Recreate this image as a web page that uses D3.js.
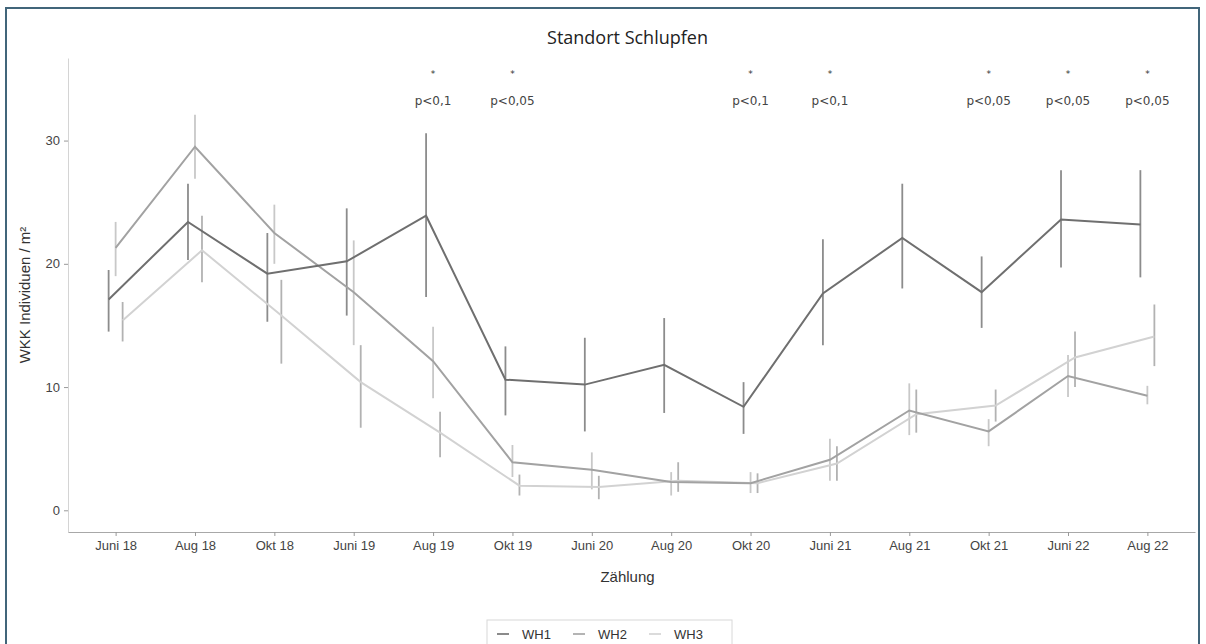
<!DOCTYPE html>
<html>
<head>
<meta charset="utf-8">
<script src="https://cdn.jsdelivr.net/npm/d3@7"></script>
<style>
  body { margin: 0; background: #fff; }
  svg { display: block; }
  text { font-family: "Liberation Sans", Arial, sans-serif; }
</style>
</head>
<body>
<svg id="chart" width="1206" height="644"></svg>
<script>
// Zählungen
const categories = ['Juni 18','Aug 18','Okt 18','Juni 19','Aug 19','Okt 19','Juni 20',
                    'Aug 20','Okt 20','Juni 21','Aug 21','Okt 21','Juni 22','Aug 22']
const seriesNames = ['WH1','WH2','WH3']

// mean and error bar ends per treatment
const wh1Mean = [17.1, 23.4, 19.2, 20.2, 23.9, 10.6, 10.2, 11.8, 8.4, 17.6, 22.1, 17.7, 23.6, 23.2]
const wh1Lo   = [14.5, 20.3, 15.3, 15.8, 17.3,  7.7,  6.4,  7.9, 6.2, 13.4, 18.0, 14.8, 19.7, 18.9]
const wh1Hi   = [19.5, 26.5, 22.5, 24.5, 30.6, 13.3, 14.0, 15.6, 10.4, 22.0, 26.5, 20.6, 27.6, 27.6]

const wh2Mean = [21.3, 29.5, 22.5, 17.7, 12.1, 3.9, 3.3, 2.3, 2.2, 4.1, 8.1, 6.4, 10.9, 9.3]
const wh2Lo   = [19.0, 26.9, 20.0, 13.4,  9.1, 2.7, 1.7, 1.2, 1.4, 2.4, 6.1, 5.2,  9.2, 8.6]
const wh2Hi   = [23.4, 32.1, 24.8, 21.9, 14.9, 5.3, 4.7, 3.1, 3.1, 5.8, 10.3, 7.4, 12.6, 10.1]

const wh3Mean = [15.4, 21.1, 15.8, 10.4, 6.3, 2.0, 1.9, 2.4, 2.2, 3.8, 7.8, 8.5, 12.4, 14.1]
const wh3Lo   = [13.7, 18.5, 11.9,  6.7, 4.3, 1.2, 0.9, 1.5, 1.4, 2.4, 6.3, 7.2, 10.0, 11.7]
const wh3Hi   = [16.9, 23.9, 18.7, 13.4, 8.0, 2.9, 2.8, 3.9, 3.0, 5.2, 9.8, 9.8, 14.5, 16.7]

const yTicks = [0, 10, 20, 30]

// significance marks
const sigCategories = ['Aug 19','Okt 19','Okt 20','Juni 21','Okt 21','Juni 22','Aug 22']
const sigLabels = ['p<0,1','p<0,05','p<0,1','p<0,1','p<0,05','p<0,05','p<0,05']

const lineColor = {WH1: '#6f6f6f', WH2: '#a2a2a2', WH3: '#d2d2d2'}
const barColor  = {WH1: '#8c8c8c', WH2: '#c8c8c8', WH3: '#b2b2b2'}
const axisFont = '"Liberation Sans", Arial, sans-serif'

const series = [
  {name: 'WH1', mean: wh1Mean, lo: wh1Lo, hi: wh1Hi},
  {name: 'WH2', mean: wh2Mean, lo: wh2Lo, hi: wh2Hi},
  {name: 'WH3', mean: wh3Mean, lo: wh3Lo, hi: wh3Hi}
].map(s => ({name: s.name, values: categories.map((c, i) => ({cat: c, m: s.mean[i], lo: s.lo[i], hi: s.hi[i]}))}))

const svg = d3.select('#chart')

// outer frame
svg.append('rect')
  .attr('x', 6).attr('y', 8).attr('width', 1193).attr('height', 650)
  .attr('fill', 'none').attr('stroke', '#41657a').attr('stroke-width', 2)

const margin = {left: 68, right: 1195, top: 58, bottom: 532}

const x = d3.scalePoint().domain(categories).range([margin.left, margin.right]).padding(0.6)
const dodge = d3.scalePoint().domain(seriesNames).range([-7, 7])
const y = d3.scaleLinear().domain([-1.76, 36.7]).range([margin.bottom, margin.top])

// axes
const yAxis = svg.append('g')
  .attr('transform', 'translate(' + margin.left + ',0)')
  .call(d3.axisLeft(y).tickValues(yTicks).tickSize(4).tickPadding(4).tickSizeOuter(0))
  .attr('font-family', axisFont)
yAxis.select('.domain').attr('stroke', '#d4d4d4')
yAxis.selectAll('.tick line').attr('stroke', '#999')
yAxis.selectAll('.tick text').attr('fill', '#444').style('font-size', '13px')

const xAxis = svg.append('g')
  .attr('transform', 'translate(0,' + margin.bottom + ')')
  .call(d3.axisBottom(x).tickSize(4).tickPadding(5).tickSizeOuter(0))
  .attr('font-family', axisFont)
xAxis.select('.domain').attr('stroke', '#a8a8a8')
xAxis.selectAll('.tick line').attr('stroke', '#999')
xAxis.selectAll('.tick text').attr('fill', '#444').style('font-size', '13px')

// error bars
const px = (s, d) => x(d.cat) + dodge(s.name)
series.forEach(s => {
  svg.append('g')
    .attr('stroke', barColor[s.name]).attr('stroke-width', 1.8)
    .selectAll('line')
    .data(s.values)
    .join('line')
      .attr('x1', d => px(s, d)).attr('x2', d => px(s, d))
      .attr('y1', d => y(d.lo)).attr('y2', d => y(d.hi))
})

// lines
const line = d3.line()
series.slice().reverse().forEach(s => {
  svg.append('path')
    .datum(s.values)
    .attr('fill', 'none')
    .attr('stroke', lineColor[s.name])
    .attr('stroke-width', 2)
    .attr('d', line.x(d => px(s, d)).y(d => y(d.m)))
})

// significance annotations
const sig = svg.append('g').attr('text-anchor', 'middle').attr('fill', '#333')
sig.selectAll('.star').data(sigCategories).join('text')
  .attr('class', 'star')
  .attr('x', d => x(d)).attr('y', y(35.5) + 4)
  .style('font-family', '"DejaVu Sans", sans-serif').style('font-size', '9px')
  .text('*')
sig.selectAll('.plab').data(sigCategories).join('text')
  .attr('class', 'plab')
  .attr('x', d => x(d)).attr('y', y(33.2) + 4)
  .style('font-family', '"DejaVu Sans", sans-serif').style('font-size', '12px').attr('fill', '#444')
  .text((d, i) => sigLabels[i])

// titles
const midX = (margin.left + margin.right) / 2 - 4
svg.append('text')
  .attr('x', midX).attr('y', 44)
  .attr('text-anchor', 'middle')
  .style('font-family', '"Open Sans", sans-serif').style('font-size', '18px').attr('fill', '#222')
  .text('Standort Schlupfen')

svg.append('text')
  .attr('x', midX).attr('y', 582)
  .attr('text-anchor', 'middle')
  .style('font-size', '15px').attr('fill', '#333')
  .text('Zählung')

svg.append('text')
  .attr('transform', 'translate(30,' + ((margin.top + margin.bottom) / 2) + ') rotate(-90)')
  .attr('text-anchor', 'middle')
  .style('font-size', '15px').attr('fill', '#333')
  .text('WKK Individuen / m²')

// legend
const legend = svg.append('g').attr('transform', 'translate(487,620)')
legend.append('rect')
  .attr('width', 245).attr('height', 27)
  .attr('fill', '#fff').attr('stroke', '#d8d8d8')
const item = legend.selectAll('.item').data(seriesNames).join('g')
  .attr('class', 'item')
  .attr('transform', (d, i) => 'translate(' + (10 + i * 76) + ',14)')
item.append('line')
  .attr('x1', 0).attr('x2', 12)
  .attr('stroke', d => lineColor[d]).attr('stroke-width', 1.6)
item.append('text')
  .attr('x', 25).attr('y', 5)
  .style('font-size', '13px').attr('fill', '#333')
  .text(d => d)
</script>
</body>
</html>
